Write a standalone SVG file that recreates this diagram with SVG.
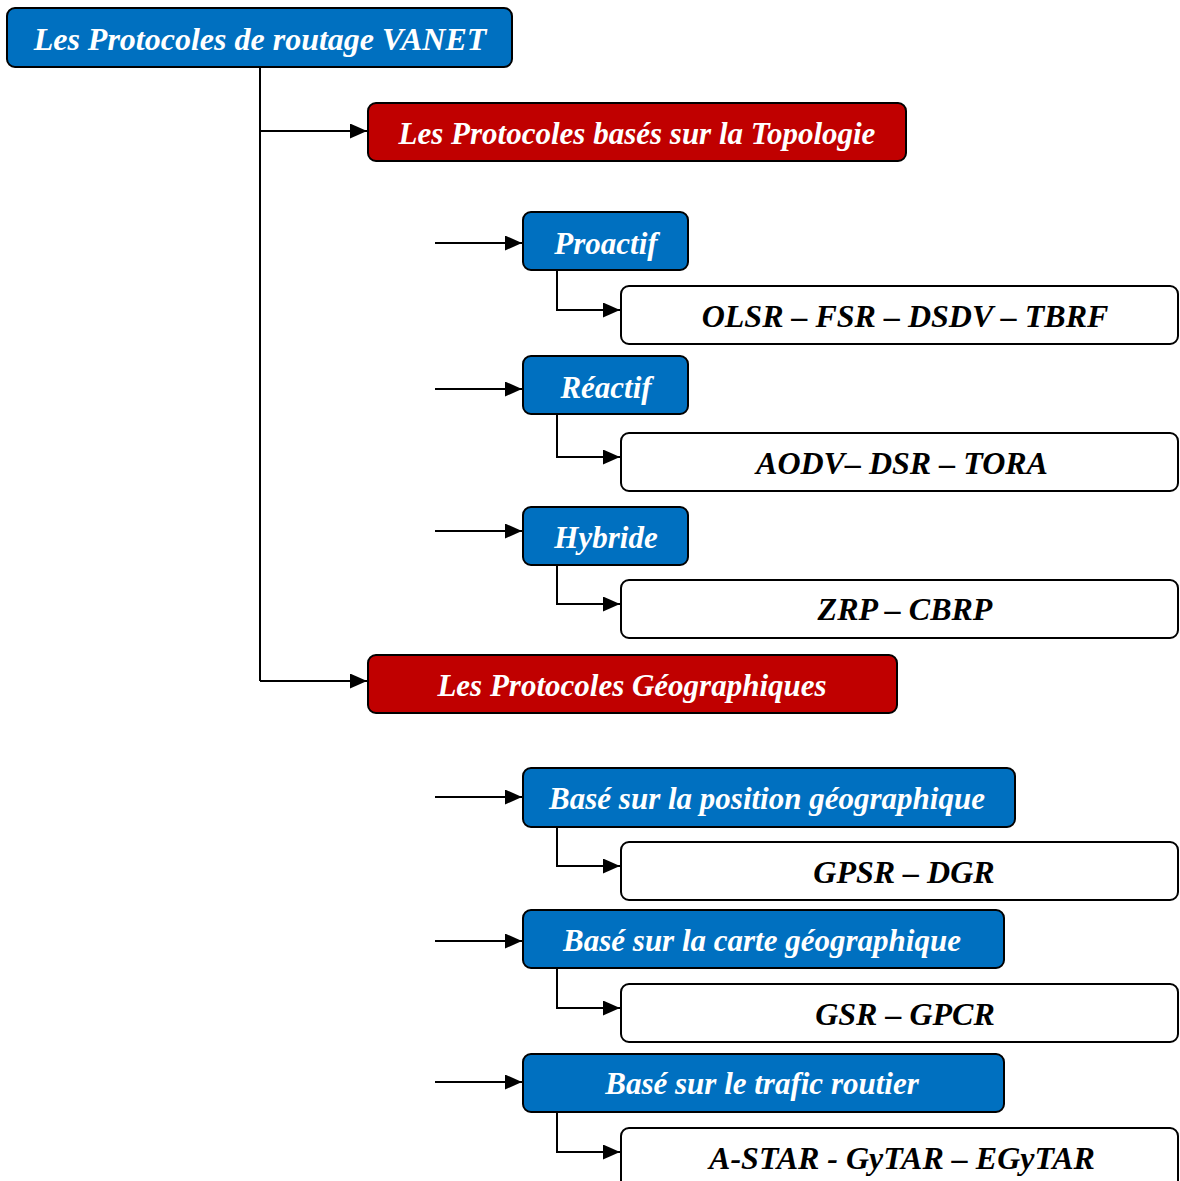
<svg xmlns="http://www.w3.org/2000/svg" width="1180" height="1181" viewBox="0 0 1180 1181">
  <style>
    .box { stroke: #000; stroke-width: 2; }
    .root, .cat { fill: #0070C0; }
    .fam { fill: #C00000; }
    .leaf { fill: #fff; }
    .lbl { font-family: "Liberation Serif", "Times New Roman", serif; font-weight: bold; font-style: italic; font-size: 32px; text-anchor: middle; }
    .sm { font-size: 31px; }
    .w { fill: #fff; }
    .k { fill: #000; }
    .wire { fill: none; stroke: #000; stroke-width: 2; }
  </style>
  <defs>
    <marker id="arrow" markerUnits="userSpaceOnUse" markerWidth="17" markerHeight="15" refX="17" refY="7.5" orient="auto">
      <path d="M0,0 L17,7.5 L0,15 Z" fill="#000"/>
    </marker>
  </defs>
  <rect width="1180" height="1181" fill="#fff"/>

  <!-- connectors -->
  <g id="connectors" class="wire">
    <path d="M260,67 V681"/>
    <path d="M260,131 H367" marker-end="url(#arrow)"/>
    <path d="M260,681 H367" marker-end="url(#arrow)"/>
    <path d="M435,243 H522" marker-end="url(#arrow)"/>
    <path d="M435,389 H522" marker-end="url(#arrow)"/>
    <path d="M435,531 H522" marker-end="url(#arrow)"/>
    <path d="M435,797 H522" marker-end="url(#arrow)"/>
    <path d="M435,941 H522" marker-end="url(#arrow)"/>
    <path d="M435,1082 H522" marker-end="url(#arrow)"/>
    <path d="M557,270 V310 H620" marker-end="url(#arrow)"/>
    <path d="M557,414 V457 H620" marker-end="url(#arrow)"/>
    <path d="M557,565 V604 H620" marker-end="url(#arrow)"/>
    <path d="M557,827 V866 H620" marker-end="url(#arrow)"/>
    <path d="M557,968 V1008 H620" marker-end="url(#arrow)"/>
    <path d="M557,1112 V1152 H620" marker-end="url(#arrow)"/>
  </g>

  <g id="root">
    <rect class="box root" x="7" y="8" width="505" height="59" rx="8"/>
    <text class="lbl w" x="260" y="50">Les Protocoles de routage VANET</text>
  </g>

  <g id="topologie">
    <rect class="box fam" x="368" y="103" width="538" height="58" rx="8"/>
    <text class="lbl sm w" x="637" y="144">Les Protocoles basés sur la Topologie</text>
  </g>

  <g id="proactif">
    <rect class="box cat" x="523" y="212" width="165" height="58" rx="8"/>
    <text class="lbl sm w" x="606" y="254">Proactif</text>
  </g>
  <g id="proactif-list">
    <rect class="box leaf" x="621" y="286" width="557" height="58" rx="8"/>
    <text class="lbl k" x="905" y="327">OLSR – FSR – DSDV – TBRF</text>
  </g>

  <g id="reactif">
    <rect class="box cat" x="523" y="356" width="165" height="58" rx="8"/>
    <text class="lbl sm w" x="606" y="398">Réactif</text>
  </g>
  <g id="reactif-list">
    <rect class="box leaf" x="621" y="433" width="557" height="58" rx="8"/>
    <text class="lbl k" x="902" y="474">AODV– DSR – TORA</text>
  </g>

  <g id="hybride">
    <rect class="box cat" x="523" y="507" width="165" height="58" rx="8"/>
    <text class="lbl sm w" x="606" y="548">Hybride</text>
  </g>
  <g id="hybride-list">
    <rect class="box leaf" x="621" y="580" width="557" height="58" rx="8"/>
    <text class="lbl k" x="905" y="620">ZRP – CBRP</text>
  </g>

  <g id="geographiques">
    <rect class="box fam" x="368" y="655" width="529" height="58" rx="8"/>
    <text class="lbl sm w" x="632" y="696">Les Protocoles Géographiques</text>
  </g>

  <g id="position">
    <rect class="box cat" x="523" y="768" width="492" height="59" rx="8"/>
    <text class="lbl sm w" x="767" y="809">Basé sur la position géographique</text>
  </g>
  <g id="position-list">
    <rect class="box leaf" x="621" y="842" width="557" height="58" rx="8"/>
    <text class="lbl k" x="904" y="883">GPSR – DGR</text>
  </g>

  <g id="carte">
    <rect class="box cat" x="523" y="910" width="481" height="58" rx="8"/>
    <text class="lbl sm w" x="762" y="951">Basé sur la carte géographique</text>
  </g>
  <g id="carte-list">
    <rect class="box leaf" x="621" y="984" width="557" height="58" rx="8"/>
    <text class="lbl k" x="905" y="1025">GSR – GPCR</text>
  </g>

  <g id="trafic">
    <rect class="box cat" x="523" y="1054" width="481" height="58" rx="8"/>
    <text class="lbl sm w" x="762" y="1094">Basé sur le trafic routier</text>
  </g>
  <g id="trafic-list">
    <rect class="box leaf" x="621" y="1128" width="557" height="70" rx="8"/>
    <text class="lbl k" x="902" y="1169">A-STAR - GyTAR – EGyTAR</text>
  </g>
</svg>
